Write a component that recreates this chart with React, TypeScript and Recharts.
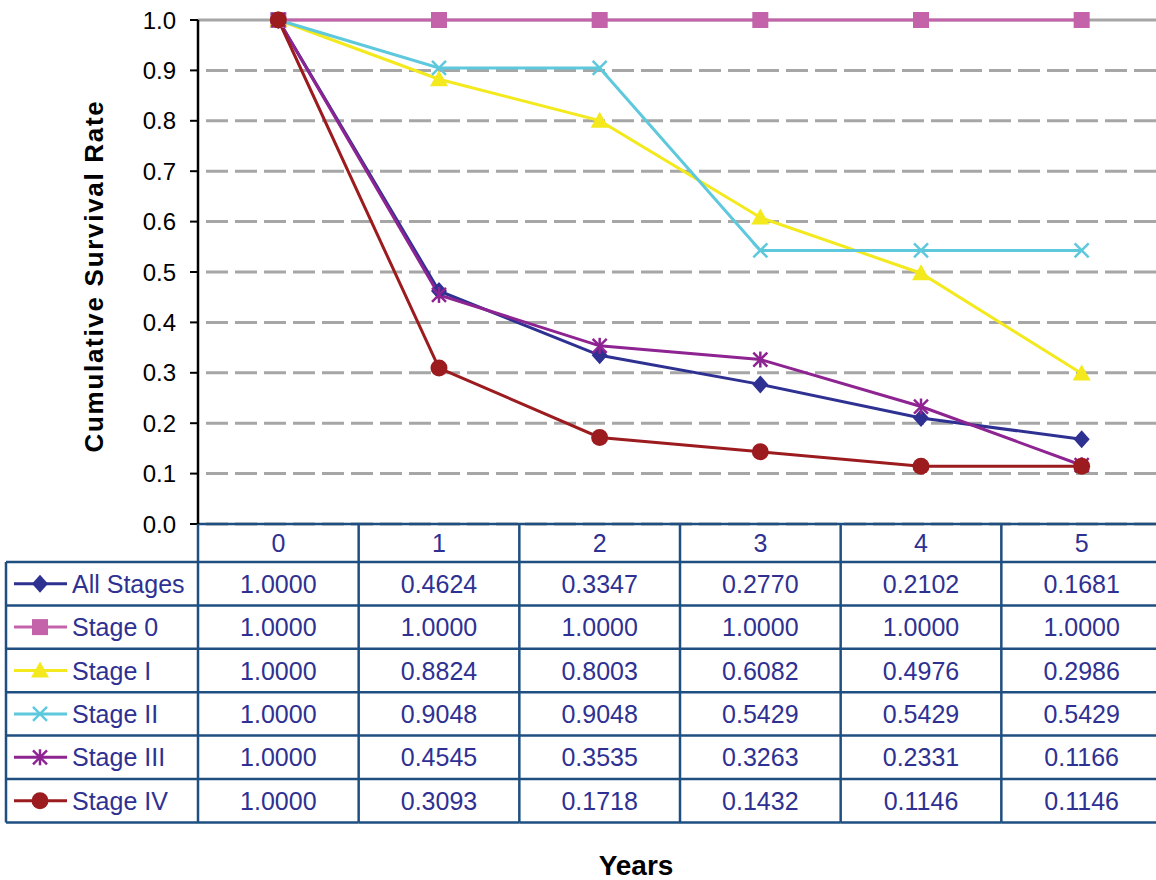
import { CartesianGrid, Line, LineChart, XAxis, YAxis, Customized } from "recharts";

// years since diagnosis and cumulative survival per stage
const years = ["0", "1", "2", "3", "4", "5"];
const allStages = [1.0, 0.4624, 0.3347, 0.277, 0.2102, 0.1681];
const stage0 = [1.0, 1.0, 1.0, 1.0, 1.0, 1.0];
const stageI = [1.0, 0.8824, 0.8003, 0.6082, 0.4976, 0.2986];
const stageII = [1.0, 0.9048, 0.9048, 0.5429, 0.5429, 0.5429];
const stageIII = [1.0, 0.4545, 0.3535, 0.3263, 0.2331, 0.1166];
const stageIV = [1.0, 0.3093, 0.1718, 0.1432, 0.1146, 0.1146];
const yTicks = [0, 0.1, 0.2, 0.3, 0.4, 0.5, 0.6, 0.7, 0.8, 0.9, 1.0];

type MarkerKind = "diamond" | "square" | "triangle" | "cross" | "star" | "circle";
type Series = { key: string; name: string; values: number[]; color: string; marker: MarkerKind };

const series: Series[] = [
  { key: "all", name: "All Stages", values: allStages, color: "#2e3192", marker: "diamond" },
  { key: "s0", name: "Stage 0", values: stage0, color: "#c462aa", marker: "square" },
  { key: "s1", name: "Stage I", values: stageI, color: "#f3e91c", marker: "triangle" },
  { key: "s2", name: "Stage II", values: stageII, color: "#5ec8dc", marker: "cross" },
  { key: "s3", name: "Stage III", values: stageIII, color: "#8e2392", marker: "star" },
  { key: "s4", name: "Stage IV", values: stageIV, color: "#9b1b1f", marker: "circle" },
];

const data = years.map((year, i) => {
  const row: Record<string, string | number> = { year };
  series.forEach((s) => (row[s.key] = s.values[i]));
  return row;
});

const W = 1162;
const H = 880;
const TOP = 20;
const LEFT = 198;
const PLOT_BOTTOM = 524;
const BAND = (W - LEFT) / years.length;
const HEADER_BOTTOM = 562;
const ROW_H = 43.4;
const BORDER = "#1f4f80";
const TEXT = "#2e3192";
const FONT = "'Liberation Sans', Arial, sans-serif";

function Marker({ kind, cx, cy, color }: { kind: MarkerKind; cx: number; cy: number; color: string }) {
  switch (kind) {
    case "diamond":
      return <polygon points={`${cx},${cy - 9} ${cx + 8},${cy} ${cx},${cy + 9} ${cx - 8},${cy}`} fill={color} />;
    case "square":
      return <rect x={cx - 8} y={cy - 8} width={16} height={16} fill={color} />;
    case "triangle":
      return <polygon points={`${cx},${cy - 9} ${cx + 9},${cy + 7} ${cx - 9},${cy + 7}`} fill={color} />;
    case "cross":
      return (
        <g stroke={color} strokeWidth={2.5}>
          <line x1={cx - 7} y1={cy - 7} x2={cx + 7} y2={cy + 7} />
          <line x1={cx - 7} y1={cy + 7} x2={cx + 7} y2={cy - 7} />
        </g>
      );
    case "star":
      return (
        <g stroke={color} strokeWidth={2.5}>
          <line x1={cx - 7} y1={cy - 7} x2={cx + 7} y2={cy + 7} />
          <line x1={cx - 7} y1={cy + 7} x2={cx + 7} y2={cy - 7} />
          <line x1={cx} y1={cy - 8} x2={cx} y2={cy + 8} />
        </g>
      );
    default:
      return <circle cx={cx} cy={cy} r={8.5} fill={color} />;
  }
}

// each x tick draws one column of the data table under the plot
function TableColumn(props: any) {
  const { x, payload } = props;
  const idx = years.indexOf(String(payload.value));
  const left = x - BAND / 2;
  const right = x + BAND / 2;
  const rowLines = series.map((_, r) => HEADER_BOTTOM + (r + 1) * ROW_H);
  const tableBottom = rowLines[rowLines.length - 1];
  return (
    <g fontFamily={FONT}>
      <line x1={right} y1={PLOT_BOTTOM} x2={right} y2={tableBottom} stroke={BORDER} strokeWidth={2.5} />
      <line x1={left} y1={HEADER_BOTTOM} x2={right} y2={HEADER_BOTTOM} stroke={BORDER} strokeWidth={2.5} />
      {rowLines.map((y, r) => (
        <line key={r} x1={left} y1={y} x2={right} y2={y} stroke={BORDER} strokeWidth={2.5} />
      ))}
      <text x={x} y={(PLOT_BOTTOM + HEADER_BOTTOM) / 2 + 9} textAnchor="middle" fontSize={25} fill={TEXT}>
        {payload.value}
      </text>
      {series.map((s, r) => (
        <text key={s.key} x={x} y={HEADER_BOTTOM + r * ROW_H + ROW_H / 2 + 9} textAnchor="middle" fontSize={25} fill={TEXT}>
          {s.values[idx].toFixed(4)}
        </text>
      ))}
      {idx === 0 && (
        <g>
          <line x1={LEFT} y1={PLOT_BOTTOM} x2={LEFT} y2={tableBottom} stroke={BORDER} strokeWidth={2.5} />
          <line x1={6} y1={HEADER_BOTTOM} x2={6} y2={tableBottom} stroke={BORDER} strokeWidth={2.5} />
          <line x1={6} y1={HEADER_BOTTOM} x2={LEFT} y2={HEADER_BOTTOM} stroke={BORDER} strokeWidth={2.5} />
          {rowLines.map((y, r) => (
            <line key={r} x1={6} y1={y} x2={LEFT} y2={y} stroke={BORDER} strokeWidth={2.5} />
          ))}
          {series.map((s, r) => {
            const cy = HEADER_BOTTOM + r * ROW_H + ROW_H / 2;
            return (
              <g key={s.key}>
                <line x1={14} y1={cy} x2={67} y2={cy} stroke={s.color} strokeWidth={3} />
                <Marker kind={s.marker} cx={40} cy={cy} color={s.color} />
                <text x={72} y={cy + 9} fontSize={25} fill={TEXT}>
                  {s.name}
                </text>
              </g>
            );
          })}
        </g>
      )}
    </g>
  );
}

function GridLine(props: any) {
  const { x1, y1, x2, y2 } = props;
  const solid = Math.abs(y1 - TOP) < 1;
  return (
    <line
      x1={x1}
      y1={y1}
      x2={x2}
      y2={y2}
      stroke="#a6a6a6"
      strokeWidth={3}
      strokeDasharray={solid ? undefined : "22 7"}
      strokeDashoffset={-8}
    />
  );
}

export default function App() {
  return (
    <div style={{ position: "absolute", left: 0, top: 0, width: 1156, height: H, overflow: "hidden", background: "#fff" }}>
      <LineChart width={W} height={H} data={data} margin={{ top: TOP, right: 0, left: 0, bottom: 0 }}>
        <CartesianGrid vertical={false} horizontal={(p: any) => <GridLine {...p} />} />
        <XAxis
          dataKey="year"
          height={H - PLOT_BOTTOM}
          padding={{ left: BAND / 2, right: BAND / 2 }}
          axisLine={{ stroke: BORDER, strokeWidth: 2.5 }}
          tickLine={false}
          interval={0}
          tick={(p: any) => <TableColumn {...p} />}
        />
        <YAxis
          width={LEFT}
          domain={[0, 1]}
          ticks={yTicks}
          tickFormatter={(v: number) => v.toFixed(1)}
          axisLine={{ stroke: "#000", strokeWidth: 2.5 }}
          tickLine={{ stroke: "#000", strokeWidth: 2 }}
          tickSize={8}
          tickMargin={14}
          tick={{ fill: "#000", fontSize: 24, fontFamily: FONT }}
        />
        {series.map((s) => (
          <Line
            key={s.key}
            dataKey={s.key}
            name={s.name}
            stroke={s.color}
            strokeWidth={3}
            isAnimationActive={false}
            dot={(p: any) => <Marker key={`${s.key}-${p.index}`} kind={s.marker} cx={p.cx} cy={p.cy} color={s.color} />}
            activeDot={false}
          />
        ))}
        <Customized
          component={() => (
            <g fontFamily={FONT} fontWeight="bold" fill="#000">
              <text x={103} y={276} fontSize={26} letterSpacing={1.7} textAnchor="middle" transform="rotate(-90 103 276)">
                Cumulative Survival Rate
              </text>
              <text x={636} y={875} fontSize={28} textAnchor="middle">
                Years
              </text>
            </g>
          )}
        />
      </LineChart>
    </div>
  );
}
